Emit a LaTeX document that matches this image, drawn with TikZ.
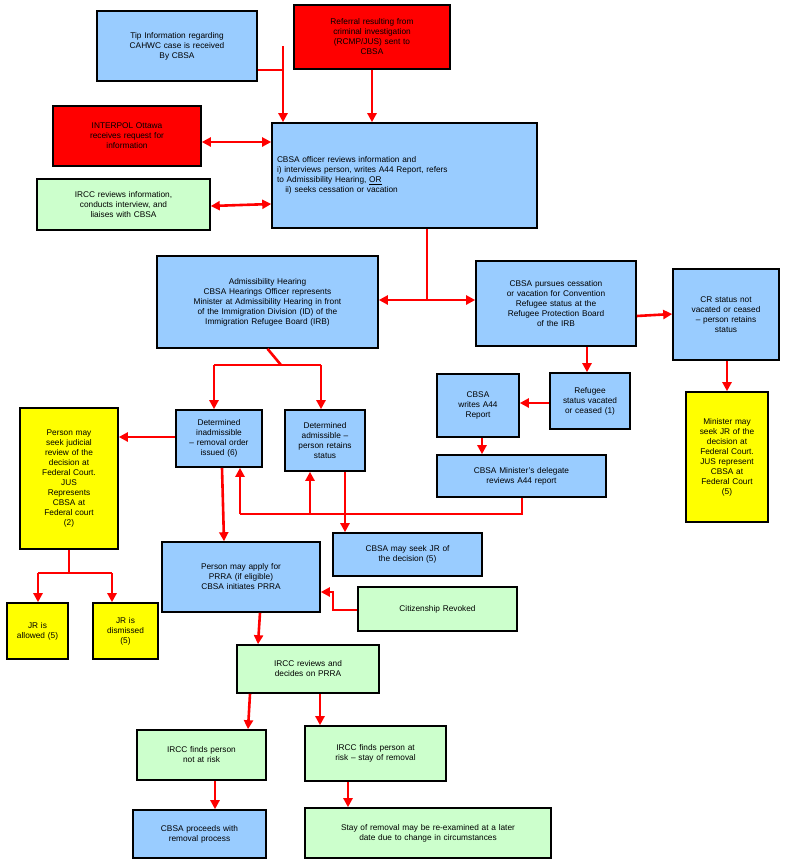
\documentclass[tikz,border=0pt]{standalone}
\usepackage{fontspec}
\setmainfont{Liberation Sans}
\usetikzlibrary{arrows.meta}
\definecolor{bl}{HTML}{99CCFF}
\definecolor{gr}{HTML}{CCFFCC}
\definecolor{ye}{HTML}{FFFF00}
\definecolor{rd}{HTML}{FF0000}
\begin{document}
\begin{tikzpicture}[x=1pt,y=-1pt,
  box/.style={draw=black,line width=1.6pt,align=center,inner sep=1pt,font=\fontsize{8.3}{10}\selectfont},
  ar/.style={draw=rd,line width=2.6pt,-{Triangle[length=9pt,width=9pt]}},
  ln/.style={draw=rd,line width=2.6pt},
  bar/.style={draw=rd,line width=2.6pt,{Triangle[length=9pt,width=9pt]}-{Triangle[length=9pt,width=9pt]}}]
\useasboundingbox (0,0) rectangle (790,868);
\newcommand{\bx}[7]{\node[box,fill=#2,minimum width=#5-#3,minimum height=#6-#4,text width=#5-#3-6] (#1) at ({(#3+#5)/2},{(#4+#6)/2}) {#7};}
\bx{tip}{bl}{97}{11}{257}{81}{Tip Information regarding\\CAHWC case is received\\By CBSA}
\bx{ref}{rd}{294}{5}{450}{69}{Referral resulting from\\criminal investigation\\(RCMP/JUS) sent to\\CBSA}
\bx{int}{rd}{53}{106}{201}{166}{INTERPOL Ottawa\\receives request for\\information}
\node[box,fill=bl,minimum width=265,minimum height=105,text width=255,align=left] (off) at (404.5,175.5) {CBSA officer reviews information and\\i) interviews person, writes A44 Report, refers\\to Admissibility Hearing, \underline{OR}\\\hspace*{1em}ii) seeks cessation or vacation};
\bx{irc}{gr}{37}{179}{210}{230}{IRCC reviews information,\\conducts interview, and\\liaises with CBSA}
\bx{adh}{bl}{157}{256}{378}{348}{Admissibility Hearing\\CBSA Hearings Officer represents\\Minister at Admissibility Hearing in front\\of the Immigration Division (ID) of the\\Immigration Refugee Board (IRB)}
\bx{pur}{bl}{476}{261}{636}{346}{CBSA pursues cessation\\or vacation for Convention\\Refugee status at the\\Refugee Protection Board\\of the IRB}
\bx{crs}{bl}{673}{269}{779}{360}{CR status not\\vacated or ceased\\-- person retains\\status}
\bx{a44}{bl}{437}{374}{519}{437}{CBSA\\writes A44\\Report}
\bx{rfg}{bl}{550}{373}{630}{429}{Refugee\\status vacated\\or ceased (1)}
\bx{min}{ye}{686}{392}{768}{522}{Minister may\\seek JR of the\\decision at\\Federal Court.\\JUS represent\\CBSA at\\Federal Court\\(5)}
\bx{pjr}{ye}{20}{408}{118}{549}{Person may\\seek judicial\\review of the\\decision at\\Federal Court.\\JUS\\Represents\\CBSA at\\Federal court\\(2)}
\bx{ina}{bl}{176}{410}{262}{467}{Determined\\inadmissible\\-- removal order\\issued (6)}
\bx{adm}{bl}{285}{410}{365}{471}{Determined\\admissible --\\person retains\\status}
\bx{del}{bl}{437}{455}{606}{497}{CBSA Minister's delegate\\reviews A44 report}
\bx{cjr}{bl}{333}{533}{482}{576}{CBSA may seek JR of\\the decision (5)}
\bx{prra}{bl}{162}{542}{320}{612}{Person may apply for\\PRRA (if eligible)\\CBSA initiates PRRA}
\bx{cit}{gr}{358}{587}{517}{631}{Citizenship Revoked\\[6pt]}
\bx{jra}{ye}{7}{603}{68}{659}{JR is\\allowed (5)}
\bx{jrd}{ye}{93}{603}{158}{659}{JR is\\dismissed\\(5)}
\bx{idp}{gr}{237}{645}{379}{693}{IRCC reviews and\\decides on PRRA}
\bx{nr}{gr}{137}{730}{266}{780}{IRCC finds person\\not at risk}
\bx{ar}{gr}{305}{726}{446}{781}{IRCC finds person at\\risk -- stay of removal}
\bx{pro}{bl}{133}{810}{266}{858}{CBSA proceeds with\\removal process}
\bx{sty}{gr}{305}{808}{551}{858}{Stay of removal may be re-examined at a later\\date due to change in circumstances}
% connectors
\draw[ar] (tip.east |- 0,70) -| (tip.east -| 283,0) |- (283,70) -- (off.north -| 283,0);
\draw[ar] (ref.south) -- (off.north -| ref.south);
\draw[bar] (int.east |- 0,142) -- (off.west |- 0,142);
\draw[bar] (irc.east |- 0,206) -- (off.west |- 0,204);
\draw[ln] (off.south -| 427,0) -- (427,300) coordinate (j1);
\draw[ar] (j1) -- (adh.east |- j1);
\draw[ar] (j1) -- (pur.west |- j1);
\draw[ln] (adh.south) -- (281,365) coordinate (j2);
\draw[ar] (214,365) -| (ina.north -| 214,0);
\draw[ln] (214,365) -- (321,365);
\draw[ar] (321,365) -- (adm.north -| 321,0);
\draw[ar] (ina.west |- 0,437) -- (pjr.east |- 0,437);
\draw[ar] (pur.east |- 0,316) -- (crs.west |- 0,314);
\draw[ar] (pur.south -| 587,0) -- (rfg.north -| 587,0);
\draw[ar] (rfg.west |- 0,403) -- (a44.east |- 0,403);
\draw[ar] (a44.south -| 482,0) -- (del.north -| 482,0);
\draw[ln] (del.south -| 522,0) -- (522,514) coordinate (j3) -- (240,514);
\draw[ar] (240,514) -- (ina.south -| 240,0);
\draw[ar] (310,514) -- (adm.south -| 310,0);
\draw[ar] (adm.south -| 345,0) -- (cjr.north -| 345,0);
\draw[ar] (ina.south -| 222,0) -- (prra.north -| 224,0);
\draw[ar] (cit.west |- 0,610) -- (333,610) -- (333,592) -- (prra.east |- 0,592);
\draw[ar] (crs.south -| 727,0) -- (min.north -| 727,0);
\draw[ln] (pjr.south -| 69,0) -- (69,573);
\draw[ln] (38,573) -- (112,573);
\draw[ar] (38,573) -- (jra.north -| 38,0);
\draw[ar] (112,573) -- (jrd.north -| 112,0);
\draw[ar] (prra.south -| 260,0) -- (idp.north -| 258,0);
\draw[ar] (idp.south -| 250,0) -- (nr.north -| 248,0);
\draw[ar] (idp.south -| 320,0) -- (ar.north -| 320,0);
\draw[ar] (nr.south -| 215,0) -- (pro.north -| 215,0);
\draw[ar] (ar.south -| 348,0) -- (sty.north -| 348,0);
\end{tikzpicture}
\end{document}
